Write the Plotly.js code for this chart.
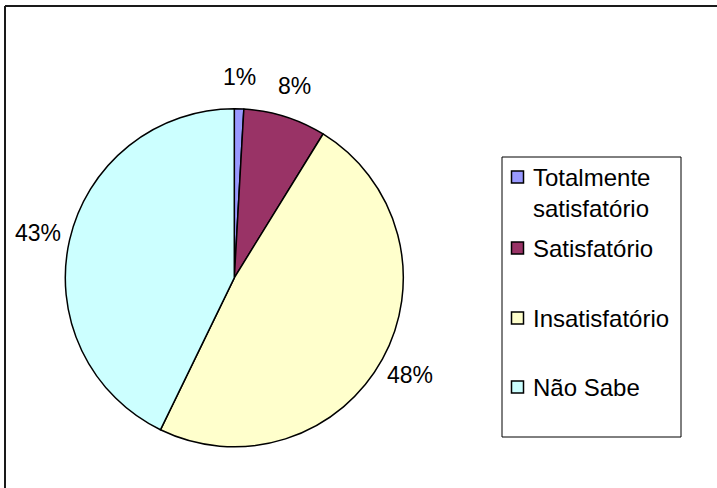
<!DOCTYPE html>
<html>
<head>
<meta charset="utf-8">
<script src="https://cdn.plot.ly/plotly-3.0.1.min.js"></script>
<style>html,body{margin:0;padding:0;background:#fff;}#chart{width:717px;height:488px;}</style>
</head>
<body>
<div id="chart"></div>
<script>
var categories = ["Totalmente satisfatório", "Satisfatório", "Insatisfatório", "Não Sabe"];
var legendLabels = ["Totalmente<br>satisfatório", "Satisfatório", "Insatisfatório", "Não Sabe"];
var values = [0.9, 7.9, 48.4, 42.8];
var colors = ["#9999FF", "#993366", "#FFFFCC", "#CCFFFF"];

var W = 717, H = 488;
function px(x) { return x / W; }
function py(y) { return (H - y) / H; }

var pieLeft = 65.3, pieRight = 403.3, pieTop = 108.3, pieBottom = 447.3;
var cx = (pieLeft + pieRight) / 2, cy = (pieTop + pieBottom) / 2;
var labelR = 201;

var trace = {
  type: "pie",
  labels: categories,
  values: values,
  sort: false,
  direction: "clockwise",
  rotation: 0,
  marker: { colors: colors, line: { color: "#000000", width: 1.5 } },
  textinfo: "none",
  hoverinfo: "label+percent",
  showlegend: false,
  domain: { x: [px(pieLeft), px(pieRight)], y: [py(pieBottom), py(pieTop)] }
};

var shapes = [
  { type: "line", xref: "paper", yref: "paper", x0: px(5), x1: 1, y0: py(6), y1: py(6), line: { color: "#1a1a1a", width: 2 } },
  { type: "line", xref: "paper", yref: "paper", x0: px(5), x1: px(5), y0: py(6), y1: 0, line: { color: "#1a1a1a", width: 2 } },
  { type: "rect", xref: "paper", yref: "paper", x0: px(502), x1: px(681), y0: py(437), y1: py(157), line: { color: "#000000", width: 1 }, fillcolor: "rgba(0,0,0,0)" }
];
var annotations = [];

// percentage labels placed at each slice's mid-angle
var total = values.reduce(function (a, b) { return a + b; }, 0);
var cum = 0;
for (var k = 0; k < values.length; k++) {
  var frac = values[k] / total;
  var mid = (cum + frac / 2) * 2 * Math.PI;
  cum += frac;
  annotations.push({ xref: "paper", yref: "paper",
    x: px(cx + labelR * Math.sin(mid)), y: py(cy - labelR * Math.cos(mid)),
    xanchor: "center", yanchor: "middle", showarrow: false,
    text: Math.round(frac * 100) + "%",
    font: { family: "Liberation Sans, Arial, sans-serif", size: 23, color: "#000000" } });
}

var entryY = [177, 248, 318, 387];
for (var i = 0; i < categories.length; i++) {
  shapes.push({ type: "rect", xref: "paper", yref: "paper",
    x0: px(511.5), x1: px(523.5), y0: py(entryY[i] + 6), y1: py(entryY[i] - 6),
    fillcolor: colors[i], line: { color: "#000000", width: 1.5 } });
  var multi = legendLabels[i].indexOf("<br>") >= 0;
  annotations.push({ xref: "paper", yref: "paper",
    x: px(531), y: multi ? py(entryY[i] - 15) : py(entryY[i]),
    xanchor: "left", yanchor: multi ? "top" : "middle", align: "left",
    text: legendLabels[i], showarrow: false,
    font: { family: "Liberation Sans, Arial, sans-serif", size: 24, color: "#000000" } });
}

var layout = {
  width: W, height: H,
  margin: { l: 0, r: 0, t: 0, b: 0 },
  paper_bgcolor: "#ffffff",
  plot_bgcolor: "#ffffff",
  showlegend: false,
  shapes: shapes,
  annotations: annotations
};

Plotly.newPlot("chart", [trace], layout, { displayModeBar: false, staticPlot: true });
</script>
</body>
</html>
